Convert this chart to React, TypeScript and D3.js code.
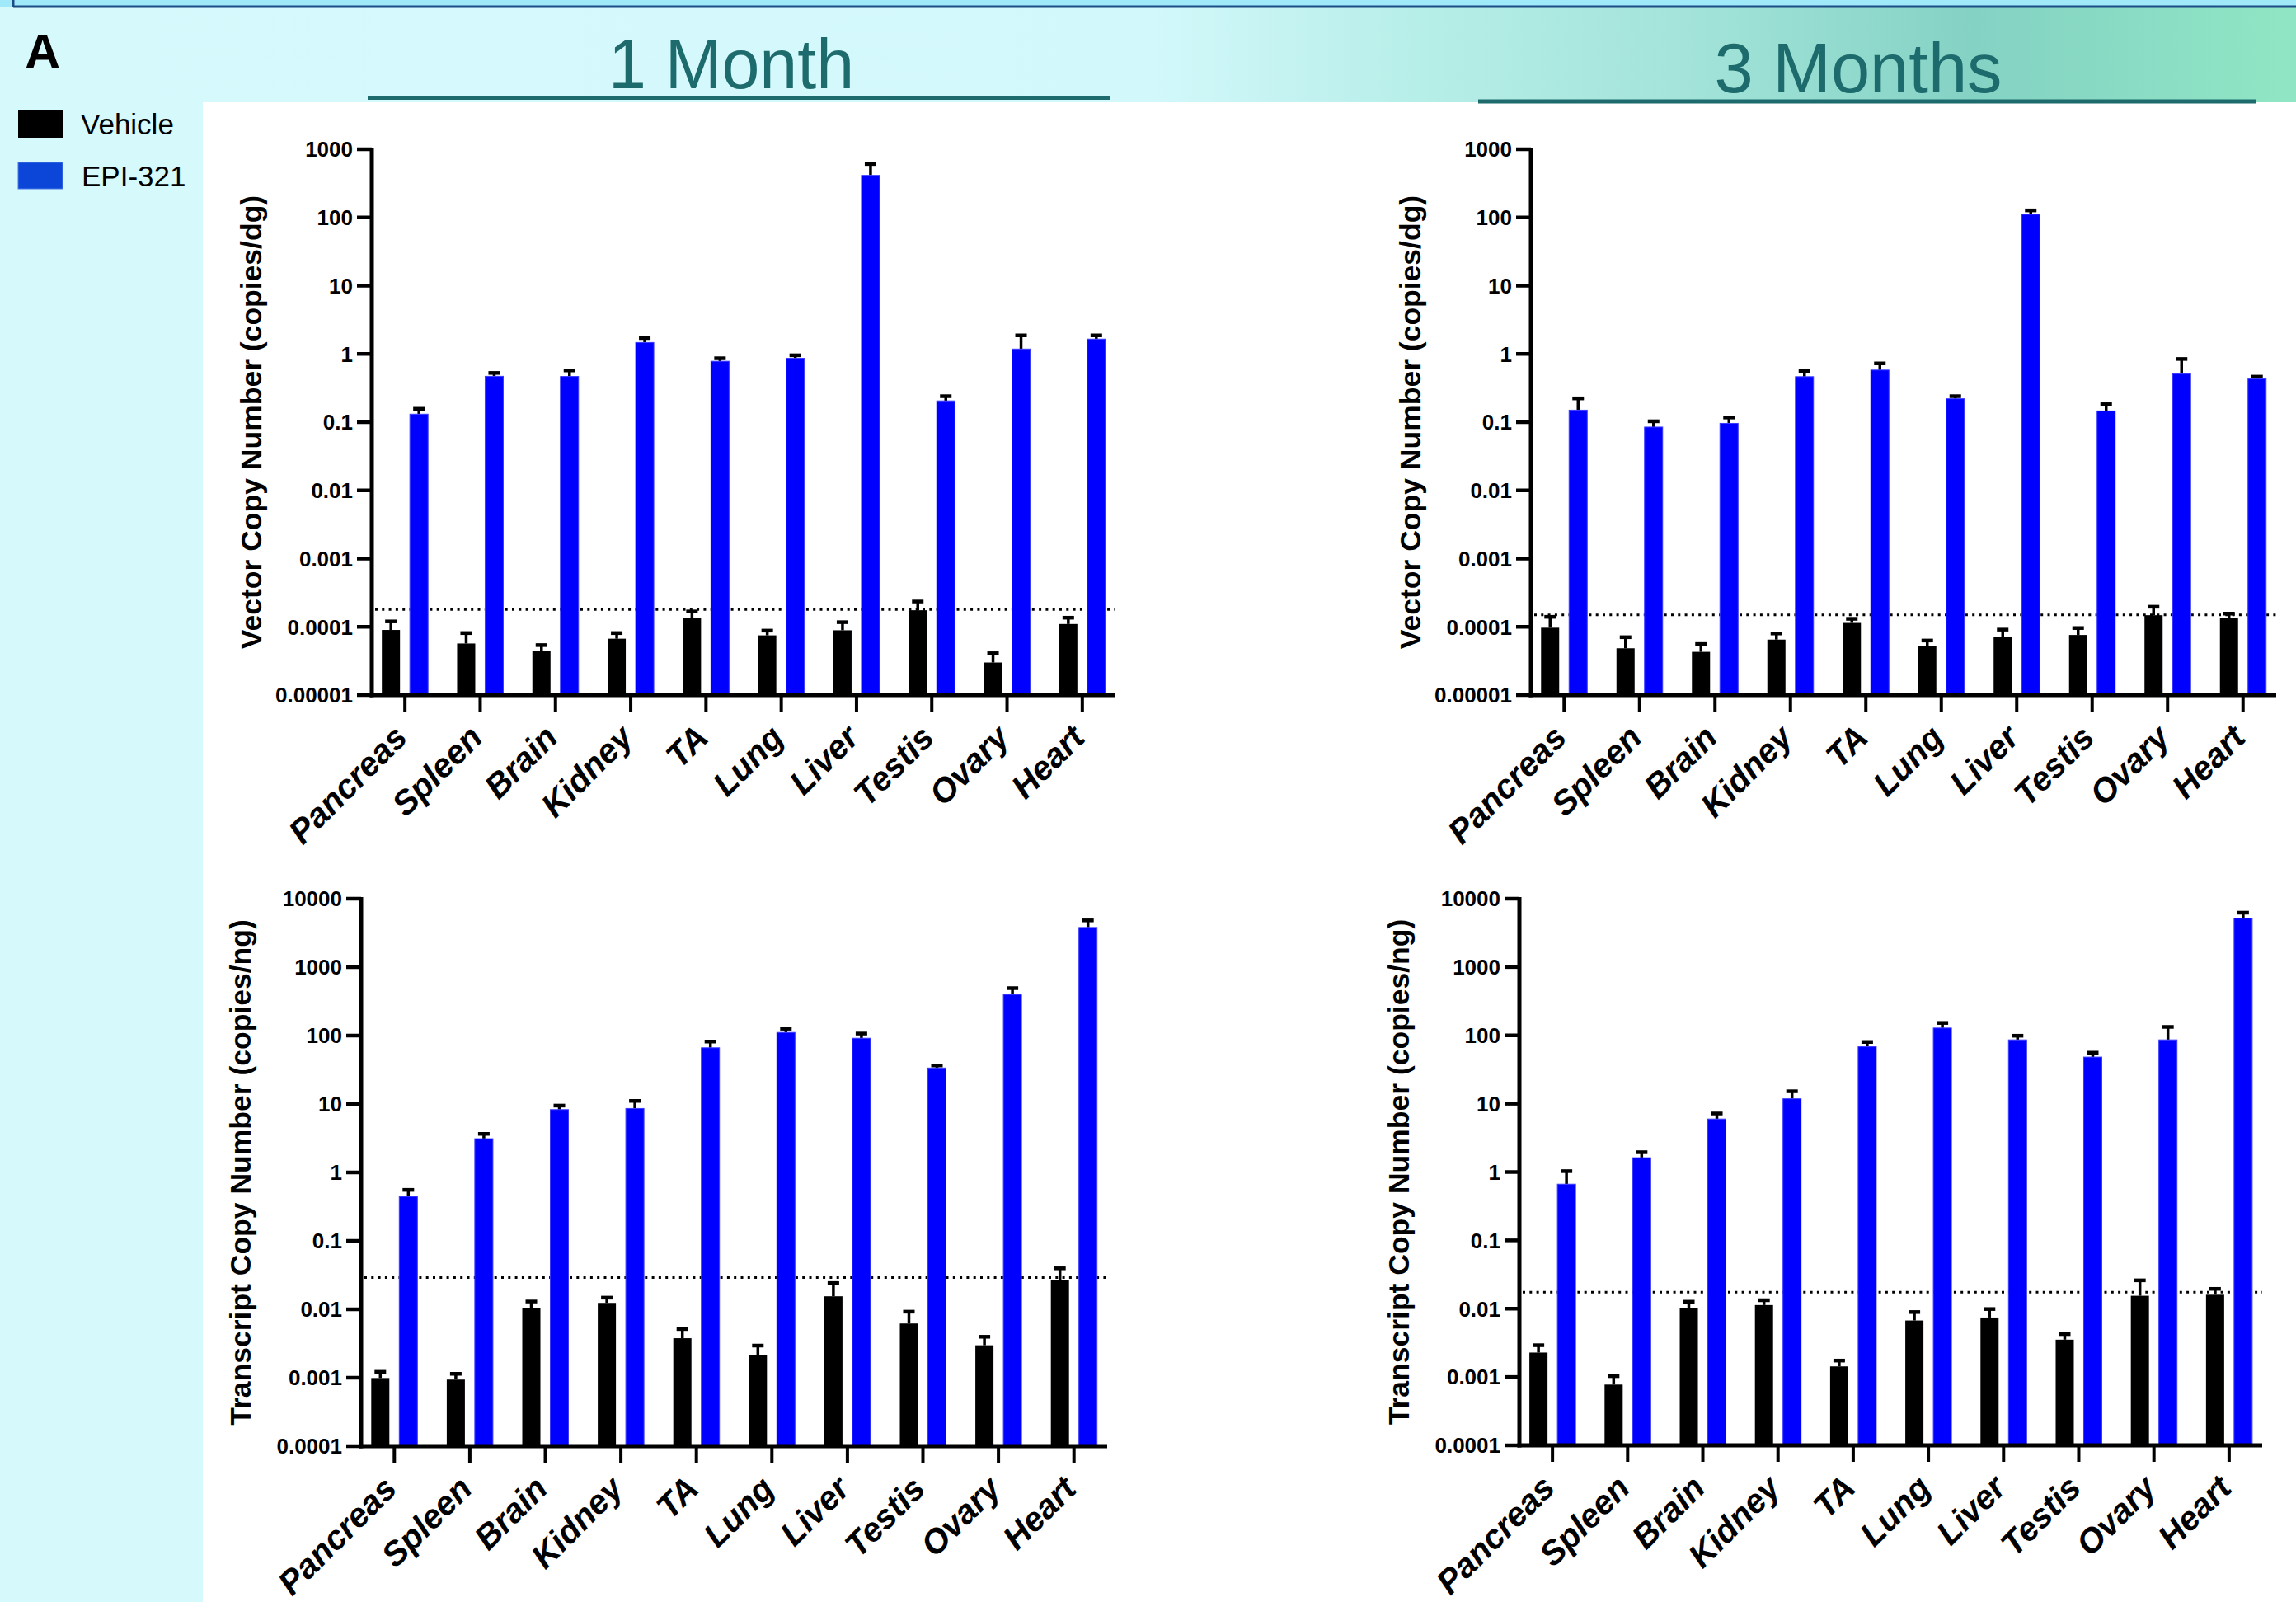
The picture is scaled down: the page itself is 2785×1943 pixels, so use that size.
import React from "react";
import * as d3 from "d3";

const W = 2785;
const H = 1943;

const organs = ["Pancreas", "Spleen", "Brain", "Kidney", "TA", "Lung", "Liver", "Testis", "Ovary", "Heart"];

// Vector copy number, 1 month
const vcn1mVehicle = [9.0e-5, 5.7e-5, 4.4e-5, 6.7e-5, 1.33e-4, 7.5e-5, 8.9e-5, 1.75e-4, 3.0e-5, 1.1e-4];
const vcn1mVehicleErr = [1.2e-4, 8.1e-5, 5.4e-5, 8.1e-5, 1.68e-4, 8.8e-5, 1.17e-4, 2.35e-4, 4.1e-5, 1.36e-4];
const vcn1mEpi = [0.131, 0.47, 0.467, 1.47, 0.78, 0.863, 414, 0.205, 1.18, 1.65];
const vcn1mEpiErr = [0.157, 0.526, 0.573, 1.71, 0.863, 0.955, 608, 0.24, 1.87, 1.87];

// Vector copy number, 3 months
const vcn3mVehicle = [9.7e-5, 4.85e-5, 4.3e-5, 6.5e-5, 1.14e-4, 5.2e-5, 7.05e-5, 7.6e-5, 1.48e-4, 1.33e-4];
const vcn3mVehicleErr = [1.4e-4, 7.05e-5, 5.6e-5, 8.0e-5, 1.31e-4, 6.3e-5, 9.1e-5, 9.6e-5, 1.97e-4, 1.56e-4];
const vcn3mEpi = [0.15, 0.0847, 0.096, 0.464, 0.58, 0.22, 111, 0.146, 0.513, 0.43];
const vcn3mEpiErr = [0.223, 0.103, 0.117, 0.56, 0.726, 0.24, 127, 0.183, 0.843, 0.464];

// Transcript copy number, 1 month
const tcn1mVehicle = [0.00099, 0.00094, 0.0104, 0.0124, 0.00378, 0.00216, 0.0155, 0.0062, 0.00298, 0.027];
const tcn1mVehicleErr = [0.00122, 0.00114, 0.013, 0.0148, 0.00515, 0.00295, 0.0242, 0.00923, 0.00397, 0.0397];
const tcn1mEpi = [0.445, 3.11, 8.28, 8.6, 66.3, 111, 91.4, 33.6, 399, 3800];
const tcn1mEpiErr = [0.556, 3.66, 9.48, 11.1, 81.8, 126, 107, 36.6, 493, 4820];

// Transcript copy number, 3 months
const tcn3mVehicle = [0.00228, 0.000775, 0.0101, 0.0113, 0.00143, 0.00672, 0.00743, 0.00352, 0.01545, 0.016];
const tcn3mVehicleErr = [0.00292, 0.00103, 0.01265, 0.0133, 0.00174, 0.00893, 0.00988, 0.00425, 0.026, 0.0195];
const tcn3mEpi = [0.664, 1.62, 5.97, 11.8, 68.1, 128, 86, 48.1, 86, 5180];
const tcn3mEpiErr = [1.03, 1.95, 7.19, 15.2, 80, 152, 98.8, 55.8, 133, 6240];

// Detection limits (dotted lines)
const limits = [1.8e-4, 1.5e-4, 0.029, 0.0174];

const vcnDomainExp = [-5, 3];
const tcnDomainExp = [-4, 4];

const seriesNames = ["Vehicle", "EPI-321"];
const headers = ["1 Month", "3 Months"];

const FONT = "'Liberation Sans', Arial, Helvetica, sans-serif";
const BLUE = "#0000ff";

type PanelProps = {
  axisX: number;
  xEnd: number;
  yTop: number;
  yBottom: number;
  exps: number[];
  title: string;
  veh: number[];
  vehErr: number[];
  epi: number[];
  epiErr: number[];
  limit: number;
};

function fmt(v: number) {
  const e = Math.round(Math.log10(v));
  return e >= 0 ? String(Math.round(v)) : v.toFixed(-e);
}

function Panel(p: PanelProps) {
  const y = d3.scaleLog().domain([10 ** p.exps[0], 10 ** p.exps[1]]).range([p.yBottom, p.yTop]);
  const x = d3.scalePoint<string>().domain(organs).range([p.axisX, p.xEnd]).padding(0.44);
  const ticks = d3.range(p.exps[0], p.exps[1] + 1).map((e) => 10 ** e);
  const barW = 22;
  const off = 17;
  const base = p.yBottom;
  const titleX = p.axisX - 134;
  const midY = (p.yTop + p.yBottom) / 2;
  return (
    <g>
      {/* dotted limit line */}
      <line
        x1={p.axisX + 4}
        x2={p.xEnd}
        y1={y(p.limit)}
        y2={y(p.limit)}
        stroke="#000"
        strokeWidth={3}
        strokeDasharray="3 5.3"
      />
      {organs.map((o, i) => {
        const c = x(o) as number;
        const vx = c - off;
        const bx = c + off;
        return (
          <g key={o}>
            {/* vehicle error */}
            <line x1={vx} x2={vx} y1={y(p.veh[i])} y2={y(p.vehErr[i])} stroke="#000" strokeWidth={3.5} />
            <line x1={vx - 7} x2={vx + 7} y1={y(p.vehErr[i])} y2={y(p.vehErr[i])} stroke="#000" strokeWidth={4.5} />
            <rect x={vx - barW / 2} y={y(p.veh[i])} width={barW} height={base - y(p.veh[i])} fill="#000" />
            {/* epi error */}
            <line x1={bx} x2={bx} y1={y(p.epi[i])} y2={y(p.epiErr[i])} stroke="#000" strokeWidth={3.5} />
            <line x1={bx - 7} x2={bx + 7} y1={y(p.epiErr[i])} y2={y(p.epiErr[i])} stroke="#000" strokeWidth={4.5} />
            <rect
              x={bx - barW / 2}
              y={y(p.epi[i])}
              width={barW}
              height={base - y(p.epi[i])}
              fill={BLUE}
              stroke="#3a3aff"
              strokeWidth={1}
            />
            {/* x tick */}
            <line x1={c} x2={c} y1={p.yBottom} y2={p.yBottom + 20} stroke="#000" strokeWidth={4} />
            <text
              transform={`translate(${c + 5},${p.yBottom + 54}) rotate(-45)`}
              textAnchor="end"
              fontFamily={FONT}
              fontWeight="bold"
              fontStyle="italic"
              fontSize={41}
              fill="#000"
            >
              {o}
            </text>
          </g>
        );
      })}
      {/* axes */}
      <line x1={p.axisX} x2={p.axisX} y1={p.yTop - 2} y2={p.yBottom + 2.5} stroke="#000" strokeWidth={5} />
      <line x1={p.axisX - 2.5} x2={p.xEnd} y1={p.yBottom} y2={p.yBottom} stroke="#000" strokeWidth={5} />
      {ticks.map((t) => (
        <g key={t}>
          <line x1={p.axisX - 18} x2={p.axisX} y1={y(t)} y2={y(t)} stroke="#000" strokeWidth={4.5} />
          <text
            x={p.axisX - 23}
            y={y(t)}
            dy="0.36em"
            textAnchor="end"
            fontFamily={FONT}
            fontWeight="bold"
            fontSize={26}
            fill="#000"
          >
            {fmt(t)}
          </text>
        </g>
      ))}
      <text
        transform={`translate(${titleX},${midY}) rotate(-90)`}
        textAnchor="middle"
        fontFamily={FONT}
        fontWeight="bold"
        fontSize={35.5}
        fill="#000"
      >
        {p.title}
      </text>
    </g>
  );
}

export default function App() {
  React.useEffect(() => {
    document.body.style.margin = "0";
  }, []);
  return (
    <svg
      width={W}
      height={H}
      viewBox={`0 0 ${W} ${H}`}
      style={{ position: "absolute", left: 0, top: 0, display: "block" }}
    >
      <defs>
        <linearGradient id="hdr" x1="0" x2="1" y1="0" y2="0">
          <stop offset="0%" stopColor="#d6f9fc" />
          <stop offset="50%" stopColor="#d3f8fb" />
          <stop offset="62%" stopColor="#b6eee8" />
          <stop offset="74%" stopColor="#a2e3d9" />
          <stop offset="86%" stopColor="#84d2c4" />
          <stop offset="100%" stopColor="#90e6c4" />
        </linearGradient>
      </defs>
      <rect x={0} y={0} width={W} height={H} fill="#d6f9fc" />
      <rect x={0} y={8} width={W} height={116} fill="url(#hdr)" />
      <rect x={0} y={0} width={W} height={8} fill="#9fe9f8" />
      <line x1={16} x2={W} y1={8} y2={8} stroke="#1d4c86" strokeWidth={3} />
      <line x1={16} x2={16} y1={0} y2={8} stroke="#1d4c86" strokeWidth={3} />
      <rect x={246} y={124} width={W - 246} height={H - 124} fill="#ffffff" />

      {/* Panel letter */}
      <text x={30} y={83} fontFamily={FONT} fontWeight="bold" fontSize={60} fill="#000">
        A
      </text>

      {/* Legend */}
      <rect x={22} y={134} width={54} height={33} fill="#000" />
      <text x={98} y={163} fontFamily={FONT} fontSize={35} fill="#000">
        {seriesNames[0]}
      </text>
      <rect x={22} y={197} width={54} height={32} fill="#0b46d8" stroke="#4a7ae6" strokeWidth={1} />
      <text x={99} y={226} fontFamily={FONT} fontSize={35} fill="#000">
        {seriesNames[1]}
      </text>

      {/* Headers */}
      <text
        x={887}
        y={107}
        textAnchor="middle"
        fontFamily={FONT}
        fontSize={86}
        fill="#1d6b6c"
        textLength={298}
        lengthAdjust="spacingAndGlyphs"
      >
        {headers[0]}
      </text>
      <line x1={446} x2={1346} y1={118.5} y2={118.5} stroke="#1d6b6c" strokeWidth={5} />
      <text
        x={2254}
        y={112}
        textAnchor="middle"
        fontFamily={FONT}
        fontSize={86}
        fill="#1d6b6c"
        textLength={349}
        lengthAdjust="spacingAndGlyphs"
      >
        {headers[1]}
      </text>
      <line x1={1793} x2={2736} y1={123} y2={123} stroke="#1d6b6c" strokeWidth={5} />

      <Panel
        axisX={451}
        xEnd={1353}
        yTop={181}
        yBottom={843}
        exps={vcnDomainExp}
        title="Vector Copy Number (copies/dg)"
        veh={vcn1mVehicle}
        vehErr={vcn1mVehicleErr}
        epi={vcn1mEpi}
        epiErr={vcn1mEpiErr}
        limit={limits[0]}
      />
      <Panel
        axisX={1857}
        xEnd={2761}
        yTop={181}
        yBottom={843}
        exps={vcnDomainExp}
        title="Vector Copy Number (copies/dg)"
        veh={vcn3mVehicle}
        vehErr={vcn3mVehicleErr}
        epi={vcn3mEpi}
        epiErr={vcn3mEpiErr}
        limit={limits[1]}
      />
      <Panel
        axisX={438}
        xEnd={1343}
        yTop={1090}
        yBottom={1754}
        exps={tcnDomainExp}
        title="Transcript Copy Number (copies/ng)"
        veh={tcn1mVehicle}
        vehErr={tcn1mVehicleErr}
        epi={tcn1mEpi}
        epiErr={tcn1mEpiErr}
        limit={limits[2]}
      />
      <Panel
        axisX={1843}
        xEnd={2744}
        yTop={1090}
        yBottom={1753}
        exps={tcnDomainExp}
        title="Transcript Copy Number (copies/ng)"
        veh={tcn3mVehicle}
        vehErr={tcn3mVehicleErr}
        epi={tcn3mEpi}
        epiErr={tcn3mEpiErr}
        limit={limits[3]}
      />
    </svg>
  );
}
